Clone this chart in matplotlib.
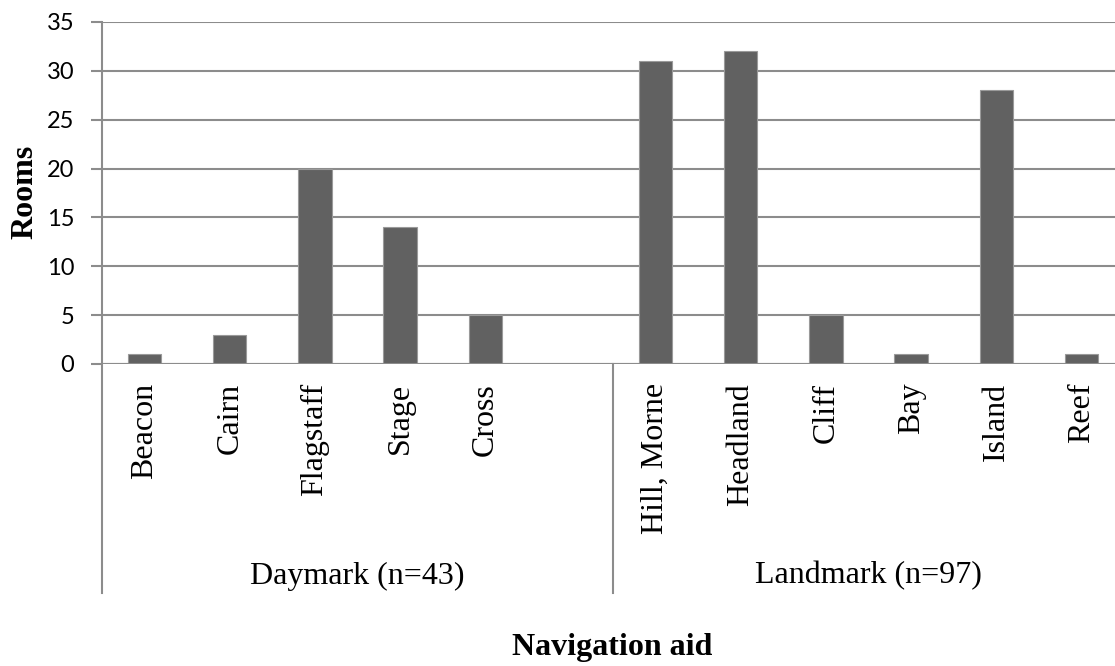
import numpy as np
import matplotlib.pyplot as plt
from matplotlib.transforms import blended_transform_factory

# rooms per navigation aid, two groups of named features
groups = ["Daymark (n=43)", "Landmark (n=97)"]
daymark_labels = ["Beacon", "Cairn", "Flagstaff", "Stage", "Cross"]
daymark_rooms = [1, 3, 20, 14, 5]
landmark_labels = ["Hill, Morne", "Headland", "Cliff", "Bay", "Island", "Reef"]
landmark_rooms = [31, 32, 5, 1, 28, 1]

slots_per_group = 6
bar_color = "#616161"
line_color = "#8c8c8c"
serif = ["Liberation Serif", "DejaVu Serif"]

fig = plt.figure(figsize=(11.15, 6.66), dpi=100)
ax = fig.add_axes([102 / 1115, 302 / 666, 1022 / 1115, 342 / 666])

x_day = np.arange(len(daymark_labels))
x_land = slots_per_group + np.arange(len(landmark_labels))
xs = np.concatenate([x_day, x_land])
vals = daymark_rooms + landmark_rooms
labels = daymark_labels + landmark_labels

ax.bar(xs, vals, width=0.39, color=bar_color, edgecolor="#9a9a9a", linewidth=0.8, zorder=3)

ax.set_xlim(-0.5, 2 * slots_per_group - 0.5)
ax.set_ylim(0, 35)
ax.set_yticks(np.arange(0, 36, 5))
ax.yaxis.grid(True, color=line_color, linewidth=1.5, zorder=0)
ax.tick_params(axis="y", length=8, width=1.5, color=line_color, pad=12,
               labelsize=17)
for t in ax.get_yticklabels():
    t.set_fontfamily(["Lato", "DejaVu Sans"])
ax.set_xticks([])
for s in ["top", "right", "bottom", "left"]:
    ax.spines[s].set_visible(False)

# axis lines: left line runs down through the category area, zero line, group divider
ax.plot([0, 0], [1, -0.67], transform=ax.transAxes, color=line_color, lw=1.5, clip_on=False, zorder=4)
ax.axhline(0, color=line_color, lw=1.5, zorder=4)
bt = blended_transform_factory(ax.transData, ax.transAxes)
ax.plot([slots_per_group - 0.5] * 2, [0, -0.67], transform=bt, color=line_color, lw=1.5, clip_on=False)

# rotated category labels
for x, lab in zip(xs, labels):
    ax.text(x, -0.055, lab, transform=bt, rotation=90, ha="center", va="top",
            fontsize=23, family=serif)

# group labels
for i, g in enumerate(groups):
    cx = i * slots_per_group + (slots_per_group - 1) / 2
    ax.text(cx, -0.62, g, transform=bt, ha="center", va="center", fontsize=23, family=serif)

fig.text(25 / 1115, 1 - 192 / 666, "Rooms", rotation=90, ha="center", va="center",
         fontsize=23, fontweight="bold", family=serif)
fig.text(612 / 1115, 1 - 647 / 666, "Navigation aid", ha="center", va="center",
         fontsize=23, fontweight="bold", family=serif)

fig.savefig("out.png", dpi=100)
